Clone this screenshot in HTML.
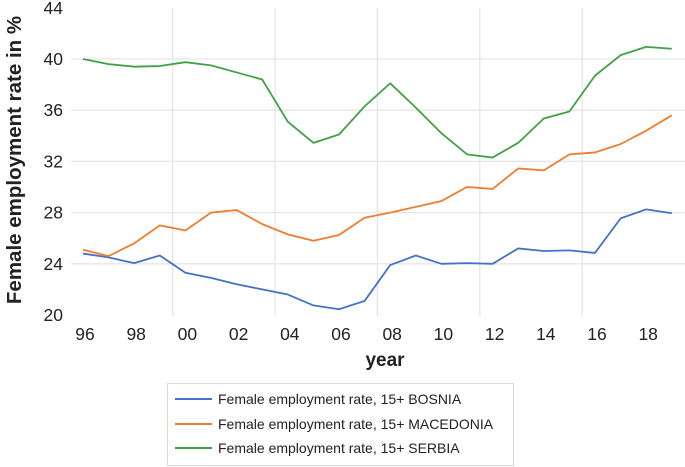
<!DOCTYPE html>
<html><head><meta charset="utf-8"><style>
html,body{margin:0;padding:0;background:#fff;}
svg{display:block;font-family:"Liberation Sans",sans-serif;}
</style></head><body>
<svg id="chart" width="685" height="467">
<g id="grid"></g>
<g id="yticks"></g>
<g id="xticks"></g>
<g id="series"></g>
<text x="385" y="366" font-size="19" font-weight="bold" fill="#222" text-anchor="middle">year</text>
<text transform="translate(21,160) rotate(-90)" font-size="20.5" font-weight="bold" fill="#222" text-anchor="middle">Female employment rate in %</text>
<g>
<rect x="167.5" y="383.5" width="346" height="82" fill="#fff" stroke="#d9d9d9"/>
<line x1="175" y1="399" x2="212" y2="399" stroke="#4472c4" stroke-width="2"/>
<text x="218" y="404" font-size="14" fill="#222">Female employment rate, 15+ BOSNIA</text>
<line x1="175" y1="424" x2="212" y2="424" stroke="#ed7d31" stroke-width="2"/>
<text x="218" y="429" font-size="14" fill="#222">Female employment rate, 15+ MACEDONIA</text>
<line x1="175" y1="448" x2="212" y2="448" stroke="#43a047" stroke-width="2"/>
<text x="218" y="453" font-size="14" fill="#222">Female employment rate, 15+ SERBIA</text>
</g>
</svg>
<script>
const years = [1996,1997,1998,1999,2000,2001,2002,2003,2004,2005,2006,2007,2008,2009,2010,2011,2012,2013,2014,2015,2016,2017,2018,2019];
const bosnia = [24.8,24.5,24.05,24.65,23.3,22.9,22.4,22.0,21.6,20.75,20.45,21.1,23.9,24.65,24.0,24.05,24.0,25.2,25.0,25.05,24.85,27.55,28.25,27.95];
const macedonia = [25.1,24.6,25.6,27.0,26.6,28.0,28.2,27.1,26.3,25.8,26.25,27.6,28.0,28.45,28.9,30.0,29.85,31.45,31.3,32.55,32.7,33.35,34.4,35.6];
const serbia = [40.0,39.6,39.4,39.45,39.75,39.5,38.95,38.4,35.1,33.45,34.1,36.3,38.1,36.2,34.2,32.55,32.3,33.45,35.35,35.9,38.7,40.3,40.95,40.8];
const yTicks = [20,24,28,32,36,40,44];
const xTickYears = [1996,1998,2000,2002,2004,2006,2008,2010,2012,2014,2016,2018];
const xTickLabels = ["96","98","00","02","04","06","08","10","12","14","16","18"];
const gridYears = [1999.5,2003.5,2007.5,2011.5,2015.5];

const NS="http://www.w3.org/2000/svg";
const xs = y => 83 + (y-1996)*25.6;
const ys = v => 315 - (v-20)*12.8;
function mk(tag, attrs, parent){const e=document.createElementNS(NS,tag);for(const k in attrs)e.setAttribute(k,attrs[k]);parent.appendChild(e);return e;}
const grid=document.getElementById('grid'), yt=document.getElementById('yticks'), xt=document.getElementById('xticks'), ser=document.getElementById('series');
yTicks.forEach(v=>{
  if(v>20 && v<44){const l=mk('line',{x1:71,x2:685,y1:ys(v),y2:ys(v),stroke:'#e6e6e6','stroke-width':1.3},grid);
  
  }
  const t=mk('text',{x:63,y:ys(v)+6,'font-size':17.5,fill:'#222','text-anchor':'end'},yt);
  t.textContent=v;
  
  
});
gridYears.forEach(y=>{
  const l=mk('line',{x1:xs(y),x2:xs(y),y1:8,y2:316,stroke:'#e6e6e6','stroke-width':1.3},grid);
  
  
});
xTickYears.forEach((y,i)=>{
  const t=mk('text',{x:xs(y)+2,y:340,'font-size':17.5,fill:'#222','text-anchor':'middle'},xt);
  t.textContent=xTickLabels[i];
  
  
});
[[bosnia,'#4472c4','line-bosnia'],[macedonia,'#ed7d31','line-macedonia'],[serbia,'#43a047','line-serbia']].forEach(([d,c,n])=>{
  const p=mk('polyline',{points:d.map((v,i)=>xs(years[i])+','+ys(v)).join(' '),fill:'none',stroke:c,'stroke-width':1.8,'stroke-linejoin':'round'},ser);
  
  
});
</script>
</body></html>
